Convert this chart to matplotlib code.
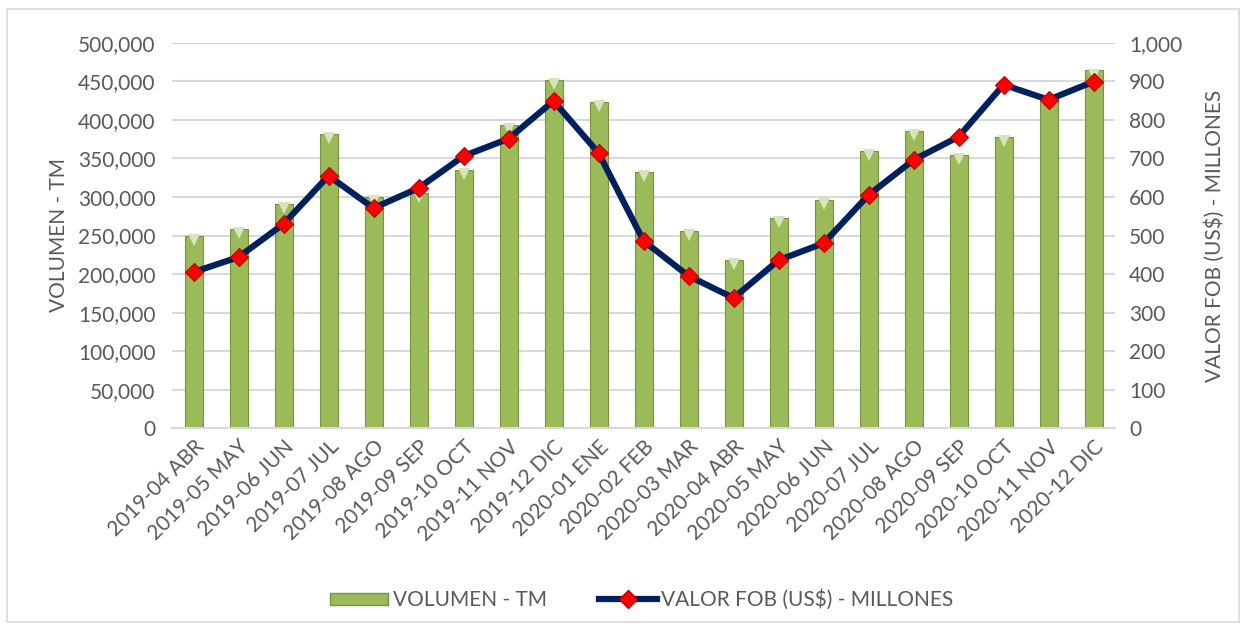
import matplotlib.pyplot as plt
import matplotlib.patches as mpatches
import matplotlib.transforms as mtransforms
from matplotlib.lines import Line2D
from matplotlib.ticker import FuncFormatter

# Data
months = ['2019-04 ABR', '2019-05 MAY', '2019-06 JUN', '2019-07 JUL', '2019-08 AGO',
          '2019-09 SEP', '2019-10 OCT', '2019-11 NOV', '2019-12 DIC', '2020-01 ENE',
          '2020-02 FEB', '2020-03 MAR', '2020-04 ABR', '2020-05 MAY', '2020-06 JUN',
          '2020-07 JUL', '2020-08 AGO', '2020-09 SEP', '2020-10 OCT', '2020-11 NOV',
          '2020-12 DIC']
volumen = [249000, 258000, 291000, 382000, 300000, 305000, 335000, 393000, 452000, 423000,
           332000, 256000, 218000, 273000, 296000, 360000, 386000, 355000, 378000, 428000,
           464000]
valor_fob = [405, 444, 530, 655, 571, 623, 706, 751, 849, 714,
             486, 395, 338, 436, 480, 605, 696, 756, 891, 852, 899]

plt.rcParams['font.family'] = ['Lato', 'DejaVu Sans']
gray = '#595959'
fs = 15

fig = plt.figure(figsize=(12.46, 6.28), dpi=100)
ax = fig.add_axes([0.138, 0.318, 0.757, 0.614])
ax2 = ax.twinx()

x = list(range(len(months)))
ax.bar(x, volumen, width=0.4, color='#9BBB59', edgecolor='#76923C', linewidth=0.8, zorder=2)
# lighter bevel at the top of each bar, nudged down inside the bar
bevel = mtransforms.offset_copy(ax.transData, fig=fig, x=0, y=-3, units='points')
ax.plot(x, volumen, linestyle='none', marker='v', markersize=8.5, transform=bevel,
        color='#D7E4BD', markeredgewidth=0, zorder=3)

ax2.plot(x, valor_fob, color='#002060', linewidth=4.5, marker='D', markersize=9,
         markerfacecolor='#FF0000', markeredgecolor='#C00000', markeredgewidth=0.8, zorder=4)

ax.set_ylim(0, 500000)
ax.set_yticks(range(0, 500001, 50000))
ax.yaxis.set_major_formatter(FuncFormatter(lambda v, p: f'{int(v):,}'))
ax2.set_ylim(0, 1000)
ax2.set_yticks(range(0, 1001, 100))
ax2.yaxis.set_major_formatter(FuncFormatter(lambda v, p: f'{int(v):,}'))
ax.set_xlim(-0.48, len(months) - 0.52)

ax.grid(axis='y', color='#D9D9D9', linewidth=1.5, zorder=0)
ax.set_axisbelow(True)
for a in (ax, ax2):
    for s in a.spines.values():
        s.set_visible(False)
    a.tick_params(length=0, colors=gray, labelsize=fs)
ax.spines['bottom'].set_visible(True)
ax.spines['bottom'].set_color('#D9D9D9')
ax.spines['bottom'].set_linewidth(1.5)

ax.set_xticks(x)
ax.set_xticklabels(months, rotation=45, ha='right', rotation_mode='anchor', fontsize=fs)
ax.tick_params(axis='x', pad=6)
ax.tick_params(axis='y', pad=12)
ax2.tick_params(axis='y', pad=10)

ax.set_ylabel('VOLUMEN - TM', color=gray, fontsize=fs, labelpad=6)
ax2.set_ylabel('VALOR FOB (US\\$) - MILLONES', color=gray, fontsize=fs, rotation=90, labelpad=16)

handles = [mpatches.Patch(facecolor='#9BBB59', edgecolor='#76923C'),
           Line2D([], [], color='#002060', linewidth=4.5, marker='D', markersize=9,
                  markerfacecolor='#FF0000', markeredgecolor='#C00000')]
fig.legend(handles, ['VOLUMEN - TM', 'VALOR FOB (US\\$) - MILLONES'], loc='center',
           bbox_to_anchor=(0.515, 0.045), ncol=2, frameon=False, fontsize=fs,
           labelcolor=gray, handlelength=2.8, handleheight=0.5, handletextpad=0.2,
           columnspacing=2.5)

fig.patches.append(mpatches.Rectangle((0.006, 0.01), 0.988, 0.975, transform=fig.transFigure,
                                      fill=False, edgecolor='#D9D9D9', linewidth=1.2))

fig.savefig('out.png', dpi=100)
